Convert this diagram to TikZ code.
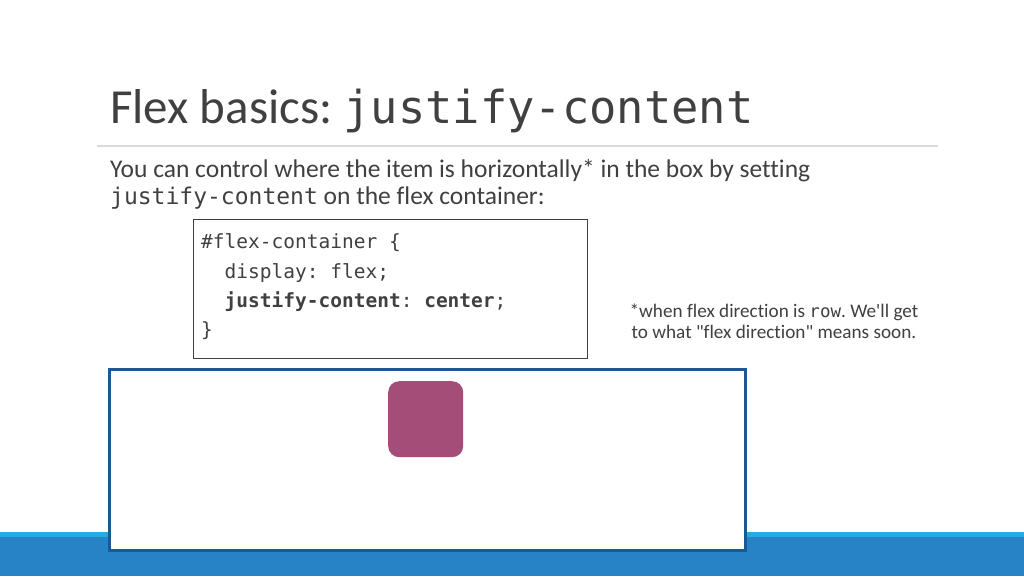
\documentclass[tikz,border=0pt]{standalone}
\usepackage{fontspec}
\setmainfont{Carlito}[Ligatures={NoCommon,NoContextual,TeXOff}]
\newfontfamily\codefont{DejaVu Sans Mono}
\definecolor{txtgray}{RGB}{64,64,64}
\definecolor{rulegray}{RGB}{217,217,217}
\definecolor{barcyan}{RGB}{38,170,226}
\definecolor{barblue}{RGB}{40,130,198}
\definecolor{boxblue}{RGB}{27,88,150}
\definecolor{itempink}{RGB}{165,77,121}
\tikzset{
  txt/.style={anchor=base west, inner sep=0pt, text=txtgray},
  codeline/.style={anchor=base west, inner sep=0pt, text=txtgray, font=\codefont\fontsize{19.5}{19.5}\selectfont},
  fntxt/.style={anchor=base, inner sep=0pt, text=txtgray, font=\fontsize{19.2}{19.2}\selectfont},
}
\begin{document}
\frenchspacing
\begin{tikzpicture}[x=1pt,y=-1pt]
\useasboundingbox (0,0) rectangle (1024,576);
\fill[white] (0,0) rectangle (1024,576);
% bottom bar
\fill[barcyan] (0,532) rectangle (1024,538);
\fill[barblue] (0,537) rectangle (1024,576);
% title
\node[txt, font=\fontsize{49}{49}\selectfont] (title) at (110,123) {Flex basics: {\codefont\fontsize{45.4}{45.4}\selectfont justify-content}};
\draw[rulegray, line width=1.2pt] (97,146) coordinate (r1) -- (938,146) coordinate (r2);
% subtitle
\node[txt, font=\fontsize{25.5}{25.5}\selectfont] (sub1) at (110,177) {You can control where the item is horizontally* in the box by setting};
\node[txt, font=\fontsize{25.5}{25.5}\selectfont] (sub2) at (110,204) {{\codefont\fontsize{23}{23}\selectfont justify-content} on the flex container:};
% code box
\node[draw=txtgray, line width=0.9pt, minimum width=394pt, minimum height=139pt, anchor=north west, inner sep=0pt] (codebox) at (193,219) {};
\node[codeline] (c1) at (201,248) {\#flex-container \{};
\node[codeline] (c2) at (201,278) {\ \ display: flex;};
\node[codeline] (c3) at (201,307) {\ \ \textbf{justify-content}: \textbf{center};};
\node[codeline] (c4) at (201,336) {\}};
% footnote
\node[fntxt] (fn1) at (774,317) {*when flex direction is {\codefont\fontsize{17.5}{17.5}\selectfont row}. We'll get};
\node[fntxt] (fn2) at (774,338) {to what "flex direction" means soon.};
% flex container
\node[draw=boxblue, fill=white, line width=3pt, minimum width=636pt, minimum height=181pt, anchor=north west, inner sep=0pt] (container) at (108,368) {};
% item
\node[fill=itempink, rounded corners=11pt, minimum width=75pt, minimum height=76pt, anchor=north west, inner sep=0pt] (item) at (388,381) {};
\end{tikzpicture}
\end{document}
